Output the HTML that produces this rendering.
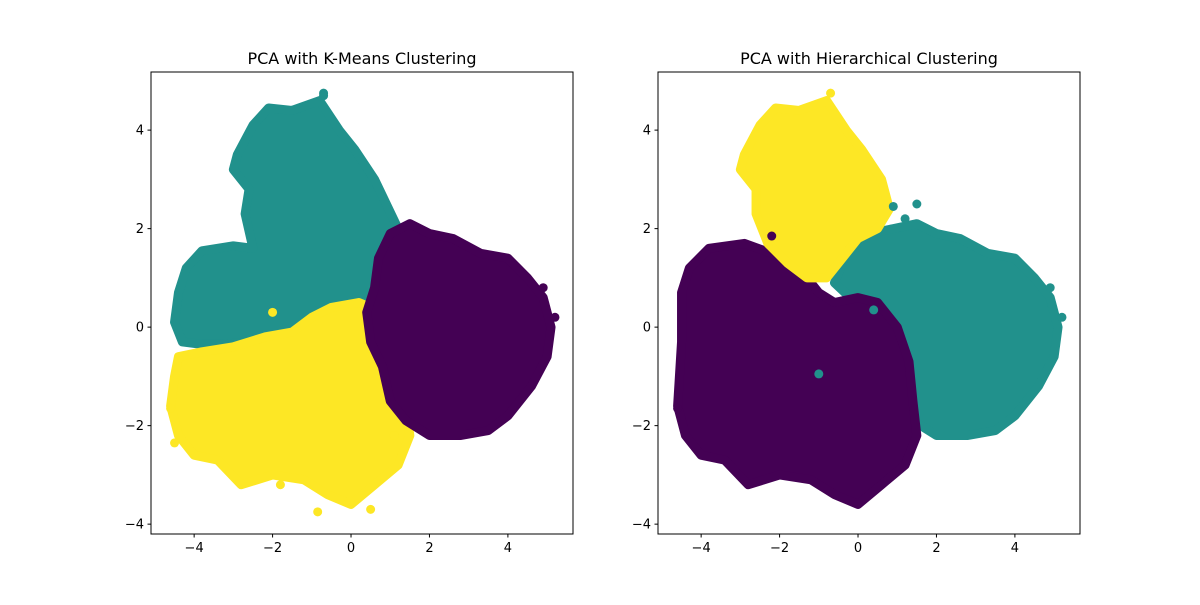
<!DOCTYPE html>
<html><head><meta charset="utf-8"><style>
body{margin:0;background:#fff}
svg text{font-family:"DejaVu Sans","Liberation Sans",sans-serif;fill:#000}
</style></head><body>
<svg id="chart" width="1200" height="600" viewBox="0 0 1200 600" xmlns="http://www.w3.org/2000/svg"></svg>
<script>
const xTicks=[-4,-2,0,2,4];
const yTicks=[-4,-2,0,2,4];
const titles=["PCA with K-Means Clustering","PCA with Hierarchical Clustering"];
const colPurple="#440154",colTeal="#21918c",colYellow="#fde725";
// cluster hulls (data units)
const kmYellow=[[-4.4,-0.6],[-3.8,-0.5],[-3,-0.4],[-2.2,-0.2],[-1.5,-0.1],[-1.0,0.2],[-0.5,0.4],[0.2,0.5],[0.8,0.3],[0.8,-0.5],[1.0,-1.1],[1.4,-1.6],[1.5,-2.2],[1.2,-2.8],[0.6,-3.2],[0.0,-3.6],[-0.6,-3.4],[-1.2,-3.1],[-2,-3.0],[-2.8,-3.2],[-3.4,-2.7],[-4.0,-2.6],[-4.4,-2.2],[-4.6,-1.6],[-4.5,-1.0]];
const kmTeal=[[-2.9,3.5],[-2.5,4.1],[-2.1,4.45],[-1.5,4.4],[-0.8,4.6],[-0.3,4.0],[0.1,3.6],[0.6,3.0],[0.9,2.5],[1.2,2.0],[1.0,1.5],[0.8,1.0],[0.6,0.5],[0.4,0.0],[-0.5,-0.1],[-1.5,-0.2],[-2.5,-0.3],[-3.3,-0.35],[-3.8,-0.35],[-4.3,-0.3],[-4.5,0.1],[-4.4,0.7],[-4.2,1.2],[-3.8,1.55],[-3.0,1.65],[-2.5,1.6],[-2.7,2.3],[-2.6,2.8],[-3.0,3.2]];
const kmPurple=[[0.6,0.8],[0.7,1.4],[1.0,1.9],[1.5,2.1],[2.0,1.9],[2.6,1.8],[3.3,1.5],[4.0,1.4],[4.5,1.0],[4.9,0.6],[5.1,0.0],[5.0,-0.6],[4.6,-1.2],[4.0,-1.8],[3.5,-2.1],[2.8,-2.2],[2.0,-2.2],[1.4,-1.9],[1.0,-1.5],[0.8,-0.8],[0.5,-0.3],[0.4,0.3]];
const hcPurple=[[-4.5,0.7],[-4.3,1.2],[-3.8,1.6],[-2.9,1.7],[-2.2,1.5],[-1.5,1.2],[-1.0,0.7],[-0.6,0.5],[0,0.6],[0.5,0.5],[1.0,0.0],[1.3,-0.7],[1.4,-1.5],[1.5,-2.2],[1.2,-2.8],[0.6,-3.2],[0,-3.6],[-0.6,-3.4],[-1.2,-3.1],[-2,-3.0],[-2.8,-3.2],[-3.4,-2.7],[-4,-2.6],[-4.4,-2.2],[-4.6,-1.6],[-4.5,-0.3]];
const hcTeal=[[-0.6,0.9],[-0.3,1.5],[0.3,1.9],[0.9,2.0],[1.5,2.1],[2.0,1.9],[2.6,1.8],[3.3,1.5],[4.0,1.4],[4.5,1.0],[4.9,0.6],[5.1,0],[5.0,-0.6],[4.6,-1.2],[4.0,-1.8],[3.5,-2.1],[2.8,-2.2],[2.0,-2.2],[1.4,-1.9],[1.3,-1.2],[1.1,-0.6],[0.8,-0.1],[0.3,0.4],[-0.2,0.6]];
const hcYellow=[[-2.9,3.5],[-2.5,4.1],[-2.1,4.45],[-1.5,4.4],[-0.8,4.6],[-0.3,4.0],[0.1,3.6],[0.6,3.0],[0.8,2.4],[0.5,2.0],[0,1.8],[-0.4,1.4],[-0.8,1.0],[-1.3,1.0],[-1.8,1.3],[-2.3,1.7],[-2.6,2.3],[-2.6,2.8],[-3.0,3.2]];
// outlier points
const kmOutX=[-0.7,-0.85,-4.6,-4.5,-0.7,-1.8,0.5,1.1,4.9,5.2,-2.0];
const kmOutY=[4.75,-3.75,-1.65,-2.35,4.7,-3.2,-3.7,-2.2,0.8,0.2,0.3];
const kmOutC=["t","y","y","y","t","y","y","y","p","p","y"];
const hcOutX=[0.9,1.5,-1.0,0.4,1.2,-0.7,-2.2,4.9,5.2,-4.6];
const hcOutY=[2.45,2.5,-0.95,0.35,2.2,4.75,1.85,0.8,0.2,-1.65];
const hcOutC=["t","t","t","t","t","y","p","t","t","p"];

const svg=document.getElementById('chart');
const NS="http://www.w3.org/2000/svg";
function mk(tag,attrs,parent){const e=document.createElementNS(NS,tag);for(const k in attrs)e.setAttribute(k,attrs[k]);(parent||svg).appendChild(e);return e;}
const panels=[{x0:151,x1:573},{x0:658,x1:1080}];
const yTop=72,yBot=534,xmin=-5.1,xmax=5.66,ymin=-4.2,ymax=5.18;
const colors={p:colPurple,t:colTeal,y:colYellow};
const layers=[[[kmTeal,colTeal,'teal-cluster'],[kmYellow,colYellow,'yellow-cluster'],[kmPurple,colPurple,'purple-cluster']],
              [[hcTeal,colTeal,'teal-cluster'],[hcPurple,colPurple,'purple-cluster'],[hcYellow,colYellow,'yellow-cluster']]];
const outs=[[kmOutX,kmOutY,kmOutC],[hcOutX,hcOutY,hcOutC]];
panels.forEach((p,i)=>{
  const sx=v=>p.x0+(v-xmin)/(xmax-xmin)*(p.x1-p.x0);
  const sy=v=>yBot-(v-ymin)/(ymax-ymin)*(yBot-yTop);
  const g=mk('g',{});
  
  
  layers[i].forEach(([pts,c,n])=>{
    const poly=mk('polygon',{points:pts.map(q=>sx(q[0])+','+sy(q[1])).join(' '),fill:c,stroke:c,'stroke-width':9,'stroke-linejoin':'round'},g);
    
    
  });
  const [ox,oy,oc]=outs[i];
  ox.forEach((v,j)=>{
    const c=mk('circle',{cx:sx(v),cy:sy(oy[j]),r:4.5,fill:colors[oc[j]]},g);
    
    
  });
  const fr=mk('rect',{x:p.x0,y:yTop,width:p.x1-p.x0,height:yBot-yTop,fill:'none',stroke:'#000','stroke-width':1},g);
  
  
  xTicks.forEach(t=>{
    const x=sx(t);
    mk('line',{x1:x,x2:x,y1:yBot,y2:yBot+3.5,stroke:'#000'},g);
    const tx=mk('text',{x:x,y:yBot+18,'text-anchor':'middle','font-size':'13'},g);
    tx.textContent=(t<0?'\u2212'+(-t):t);
    
    
  });
  yTicks.forEach(t=>{
    const y=sy(t);
    mk('line',{x1:p.x0-3.5,x2:p.x0,y1:y,y2:y,stroke:'#000'},g);
    const tx=mk('text',{x:p.x0-7,y:y+4.5,'text-anchor':'end','font-size':'13'},g);
    tx.textContent=(t<0?'\u2212'+(-t):t);
    
    
  });
  const ti=mk('text',{x:(p.x0+p.x1)/2,y:64,'text-anchor':'middle','font-size':'16'},g);
  ti.textContent=titles[i];
  
  
});
</script>
</body></html>
